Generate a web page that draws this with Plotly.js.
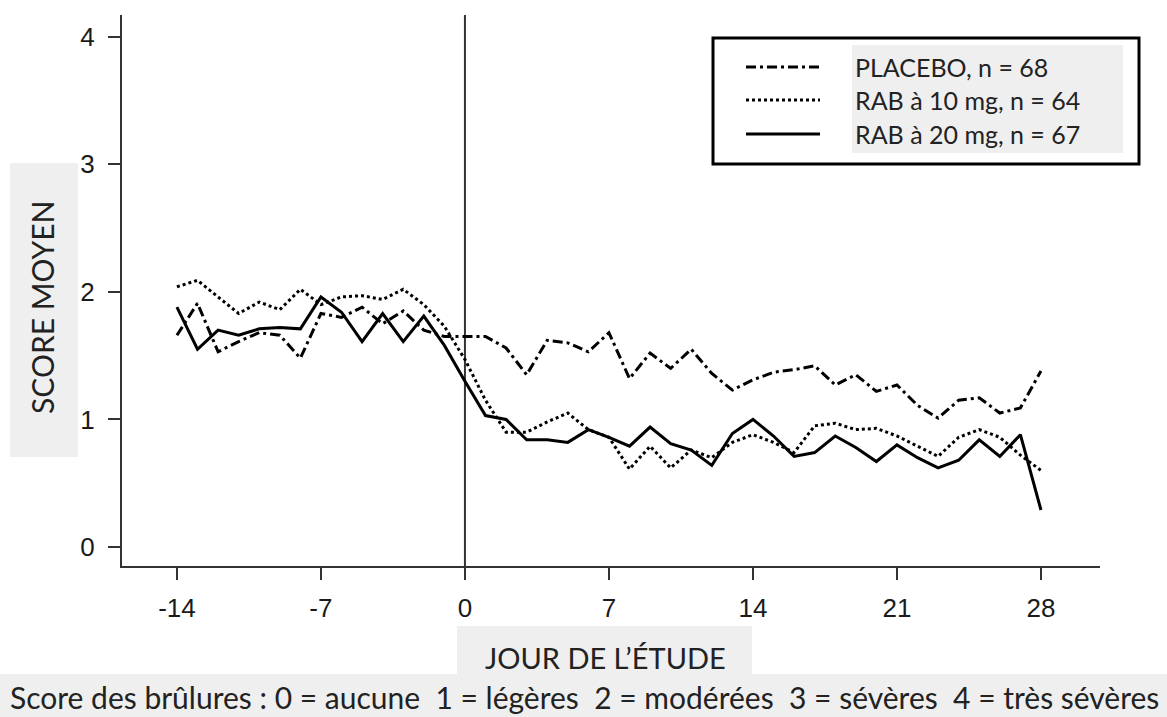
<!DOCTYPE html>
<html>
<head>
<meta charset="utf-8">
<script src="https://cdn.plot.ly/plotly-3.0.1.min.js"></script>
<style>html,body{margin:0;padding:0;background:#fff;}#chart{width:1167px;height:717px;}</style>
</head>
<body>
<div id="chart"></div>
<script>
// ---- data ----
const days = [-14,-13,-12,-11,-10,-9,-8,-7,-6,-5,-4,-3,-2,-1,0,1,2,3,4,5,6,7,8,9,10,11,12,13,14,15,16,17,18,19,20,21,22,23,24,25,26,27,28];
const placebo = [1.66,1.91,1.53,1.61,1.68,1.66,1.48,1.83,1.80,1.88,1.75,1.85,1.70,1.65,1.65,1.65,1.56,1.35,1.62,1.60,1.53,1.68,1.32,1.52,1.40,1.55,1.36,1.23,1.31,1.37,1.39,1.42,1.27,1.35,1.22,1.27,1.11,1.01,1.15,1.17,1.05,1.09,1.38];
const rab10 = [2.04,2.09,1.96,1.83,1.92,1.86,2.02,1.90,1.96,1.97,1.94,2.02,1.90,1.73,1.47,1.15,0.90,0.90,0.98,1.05,0.92,0.86,0.61,0.79,0.62,0.76,0.70,0.82,0.88,0.82,0.74,0.95,0.97,0.92,0.93,0.87,0.79,0.71,0.86,0.92,0.86,0.72,0.60];
const rab20 = [1.88,1.55,1.70,1.66,1.71,1.72,1.71,1.96,1.84,1.61,1.83,1.61,1.81,1.58,1.30,1.03,1.00,0.84,0.84,0.82,0.92,0.86,0.79,0.94,0.81,0.76,0.64,0.89,1.00,0.87,0.71,0.74,0.87,0.78,0.67,0.80,0.70,0.62,0.68,0.84,0.71,0.88,0.29];
const seriesNames = ["PLACEBO, n = 68", "RAB à 10 mg, n = 64", "RAB à 20 mg, n = 67"];
const xTicks = [-14,-7,0,7,14,21,28];
const yTicks = [0,1,2,3,4];
const xTitle = "JOUR DE L\u2019ÉTUDE";
const yTitle = "SCORE MOYEN";
const caption = "Score des brûlures : 0 = aucune\u00a0 1 = légères\u00a0 2 = modérées\u00a0 3 = sévères\u00a0 4 = très sévères";

// ---- layout helpers (pixel -> paper) ----
const W = 1167, H = 717;
const L = 122, R = 1100, T = 15, B = 566;
const pw = R - L, ph = B - T;
const px = x => (x - L) / pw;
const py = y => (B - y) / ph;

const dashes = ["10px,4px,3px,4px", "dot", "solid"];
const values = [placebo, rab10, rab20];

const traces = values.map((v, i) => ({
  x: days, y: v, name: seriesNames[i], type: "scatter", mode: "lines",
  line: {color: "#000", width: 3, dash: dashes[i]},
  showlegend: false, hoverinfo: "x+y+name"
}));

const gray = "#efefef";
const textFont = "Lato, 'Open Sans', sans-serif";

const shapes = [
  {type: "line", xref: "x", yref: "paper", x0: 0, x1: 0, y0: 0, y1: 1,
   line: {color: "#333", width: 2}, layer: "below"},
  {type: "rect", xref: "paper", yref: "paper", x0: px(10), x1: px(78), y0: py(457), y1: py(163),
   fillcolor: gray, line: {width: 0}, layer: "below"},
  {type: "rect", xref: "paper", yref: "paper", x0: px(457), x1: px(752), y0: py(674), y1: py(626),
   fillcolor: gray, line: {width: 0}, layer: "below"},
  {type: "rect", xref: "paper", yref: "paper", x0: px(0), x1: px(1167), y0: py(717), y1: py(674),
   fillcolor: gray, line: {width: 0}, layer: "below"},
  {type: "rect", xref: "paper", yref: "paper", x0: px(713), x1: px(1139), y0: py(164), y1: py(38),
   fillcolor: "#fff", line: {color: "#000", width: 3}, layer: "above"},
  {type: "rect", xref: "paper", yref: "paper", x0: px(852), x1: px(1123), y0: py(153), y1: py(45),
   fillcolor: gray, line: {width: 0}, layer: "above"}
];
const legendY = [67, 100, 134];
seriesNames.forEach((n, i) => {
  shapes.push({type: "line", xref: "paper", yref: "paper", x0: px(746), x1: px(820),
    y0: py(legendY[i]), y1: py(legendY[i]), line: {color: "#000", width: 3, dash: dashes[i]}, layer: "above"});
});

const annotations = seriesNames.map((n, i) => ({
  text: n, xref: "paper", yref: "paper", x: px(853), y: py(legendY[i]),
  xanchor: "left", yanchor: "middle", showarrow: false,
  font: {family: textFont, size: 25, color: "#222"}
}));
annotations.push({text: yTitle, xref: "paper", yref: "paper", x: px(42), y: py(308),
  xanchor: "center", yanchor: "middle", textangle: -90, showarrow: false,
  font: {family: textFont, size: 30, color: "#222"}});
annotations.push({text: xTitle, xref: "paper", yref: "paper", x: px(605), y: py(657),
  xanchor: "center", yanchor: "middle", showarrow: false,
  font: {family: textFont, size: 29, color: "#222"}});
annotations.push({text: caption, xref: "paper", yref: "paper", x: px(584), y: py(697),
  xanchor: "center", yanchor: "middle", showarrow: false,
  font: {family: textFont, size: 30, color: "#222"}});

const axisCommon = {
  showline: true, linecolor: "#333", linewidth: 2, mirror: false,
  ticks: "outside", ticklen: 12, tickwidth: 2, tickcolor: "#333",
  showgrid: false, zeroline: false, fixedrange: true,
  tickfont: {family: "Liberation Sans, Arial, sans-serif", size: 26, color: "#1a1a1a"}
};

const layout = {
  width: W, height: H,
  margin: {l: L, r: W - R, t: T, b: H - B, pad: 0},
  paper_bgcolor: "#fff", plot_bgcolor: "#fff",
  showlegend: false,
  xaxis: Object.assign({}, axisCommon, {range: [-16.67, 30.87], tickvals: xTicks, ticktext: xTicks.map(String), ticklabelstandoff: 6}),
  yaxis: Object.assign({}, axisCommon, {range: [-0.149, 4.17], tickvals: yTicks, ticktext: yTicks.map(String), ticklabelstandoff: 8}),
  shapes: shapes,
  annotations: annotations
};

Plotly.newPlot("chart", traces, layout, {displayModeBar: false, staticPlot: true});
</script>
</body>
</html>
